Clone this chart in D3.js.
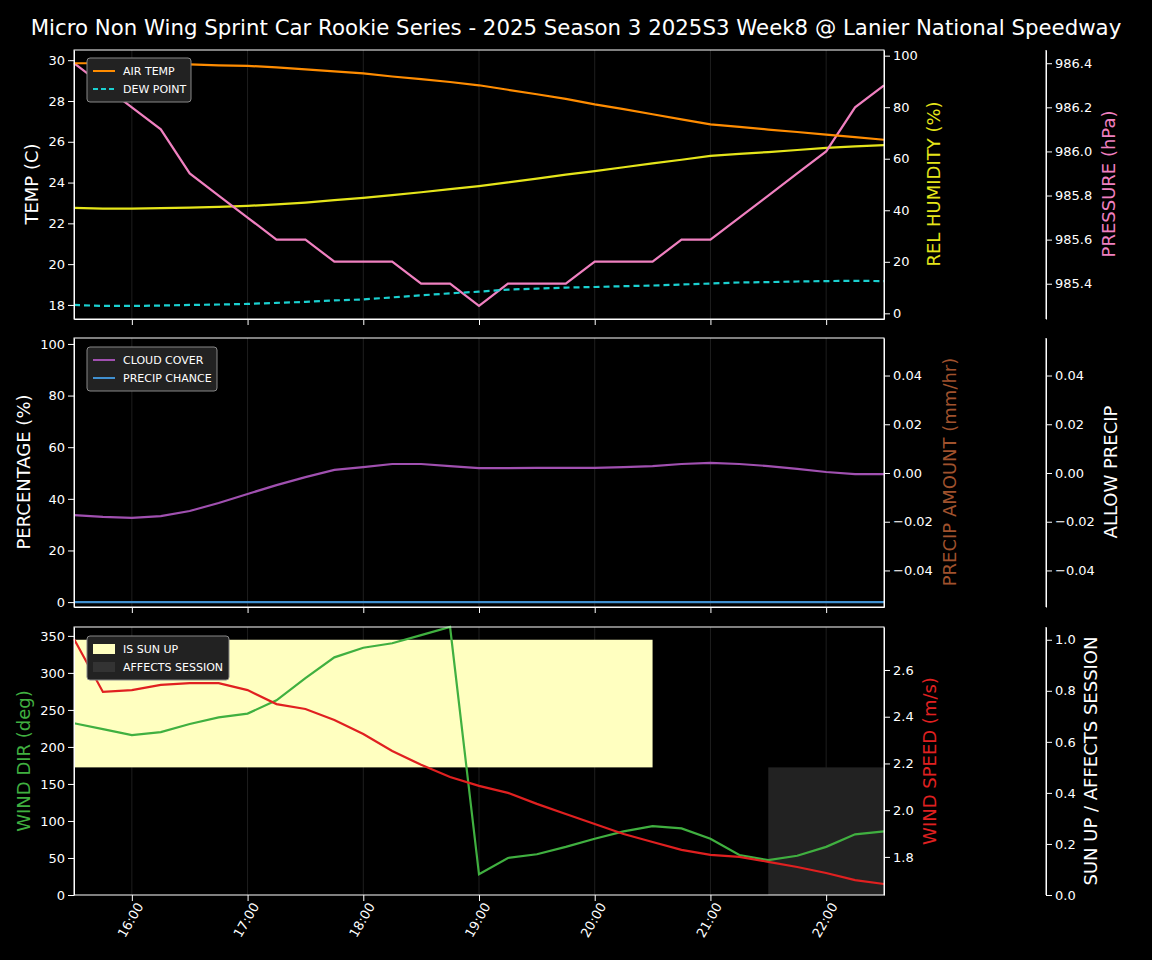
<!DOCTYPE html><html><head><meta charset="utf-8">
<script src="https://cdn.jsdelivr.net/npm/d3@7"></script>
<style>body{margin:0;background:#000}text{font-family:"DejaVu Sans",sans-serif}</style></head><body>
<svg id="c" width="1152" height="960"></svg>
<script>
const times=["15:30","15:45","16:00","16:15","16:30","16:45","17:00","17:15","17:30","17:45","18:00","18:15","18:30","18:45","19:00","19:15","19:30","19:45","20:00","20:15","20:30","20:45","21:00","21:15","21:30","21:45","22:00","22:15","22:30"];
const tickLabels=["16:00","17:00","18:00","19:00","20:00","21:00","22:00"];
const airTemp=[29.85,29.85,29.85,29.85,29.8,29.75,29.72,29.65,29.55,29.45,29.35,29.2,29.07,28.93,28.77,28.55,28.33,28.1,27.83,27.6,27.35,27.1,26.85,26.73,26.6,26.48,26.35,26.23,26.1];
const dewPoint=[18.0,17.95,17.95,17.97,18.0,18.02,18.05,18.1,18.15,18.22,18.27,18.37,18.47,18.57,18.65,18.75,18.8,18.85,18.88,18.92,18.95,19.0,19.05,19.1,19.12,19.15,19.17,19.18,19.17];
const humidity=[40.9,40.6,40.6,40.8,41,41.3,41.7,42.3,43,43.9,44.8,45.9,47,48.2,49.4,50.8,52.3,53.8,55.2,56.7,58.2,59.6,61.1,61.9,62.6,63.4,64.2,64.8,65.3];
const pressure=[986.4,986.3,986.2,986.1,985.9,985.8,985.7,985.6,985.6,985.5,985.5,985.5,985.4,985.4,985.3,985.4,985.4,985.4,985.5,985.5,985.5,985.6,985.6,985.7,985.8,985.9,986.0,986.2,986.3];
const cloudCover=[33.7,33,32.6,33.3,35.3,38.4,41.9,45.3,48.4,51.2,52.3,53.5,53.5,52.7,51.9,51.9,52,52,52,52.3,52.7,53.5,53.9,53.5,52.7,51.6,50.4,49.6,49.6];
const precipChance=times.map(()=>0);
const windDir=[232,224,216,220,231,240,245,263,293,321,334,340,351,362,28,50,55,65,76,86,93,90,76,54,47,53,65,82,86];
const windSpeed=[2.733,2.506,2.514,2.536,2.544,2.544,2.514,2.454,2.433,2.386,2.326,2.253,2.194,2.142,2.104,2.074,2.027,1.984,1.941,1.898,1.864,1.830,1.809,1.8,1.779,1.757,1.731,1.701,1.684];
const sunUp=[1,1,1,1,1,1,1,1,1,1,1,1,1,1,1,1,1,1,1,1,1,0,0,0,0,0,0,0,0];
const affects=[0,0,0,0,0,0,0,0,0,0,0,0,0,0,0,0,0,0,0,0,0,0,0,0,1,1,1,1,1];

const svg=d3.select("#c");
svg.append("rect").attr("width",1152).attr("height",960).attr("fill","#000");
const pt=d3.timeParse("%H:%M");
const T=times.map(pt);
const L=74,R=884;
const x=d3.scaleTime().domain([T[0],T[T.length-1]]).range([L,R]);
const hours=tickLabels.map(pt);
svg.append("text").attr("x",576).attr("y",35).attr("text-anchor","middle").attr("fill","#fff").attr("font-size",21.3).text("Micro Non Wing Sprint Car Rookie Series - 2025 Season 3 2025S3 Week8 @ Lanier National Speedway");

function panel(top,bot){
  const g=svg.append("g");
  hours.forEach(h=>g.append("line").attr("x1",x(h)).attr("x2",x(h)).attr("y1",top).attr("y2",bot).attr("stroke","#333").attr("stroke-width",1).attr("opacity",0.6));
  return g;
}
function axisL(sc,ticks,xp,col,fmt){const a=svg.append("g").attr("transform",`translate(${xp},0)`).call(d3.axisLeft(sc).tickValues(ticks).tickFormat(fmt||d3.format("d")).tickSizeOuter(0));style(a);}
function axisR(sc,ticks,xp,fmt){const a=svg.append("g").attr("transform",`translate(${xp},0)`).call(d3.axisRight(sc).tickValues(ticks).tickFormat(fmt||d3.format("d")).tickSizeOuter(0));style(a);}
function style(a){a.selectAll("path,line").attr("stroke","#fff");a.selectAll("text").attr("fill","#fff").attr("font-size",13);}
function frame(top,bot){svg.append("rect").attr("x",L).attr("y",top).attr("width",R-L).attr("height",bot-top).attr("fill","none").attr("stroke","#fff");}
function line(vals,y,col,dash){svg.append("path").datum(vals).attr("fill","none").attr("stroke",col).attr("stroke-width",2.2).attr("stroke-dasharray",dash||null)
  .attr("d",d3.line().x((d,i)=>x(T[i])).y(d=>y(d)));}
function label(txt,xp,yc,col,size){svg.append("text").attr("transform",`translate(${xp},${yc}) rotate(-90)`).attr("text-anchor","middle").attr("fill",col).attr("font-size",size||18).text(txt);}
function legend(yTop,items,w){const g=svg.append("g").attr("transform",`translate(87,${yTop})`);
  g.append("rect").attr("width",w).attr("height",items.length*18+8).attr("rx",3).attr("fill","#222").attr("stroke","#888");
  items.forEach((it,i)=>{const yy=13+i*18;
    if(it.box) g.append("rect").attr("x",6).attr("y",yy-5).attr("width",22).attr("height",10).attr("fill",it.col);
    else g.append("line").attr("x1",6).attr("x2",28).attr("y1",yy).attr("y2",yy).attr("stroke",it.col).attr("stroke-width",2).attr("stroke-dasharray",it.dash||null);
    g.append("text").attr("x",36).attr("y",yy+4).attr("fill","#fff").attr("font-size",11).text(it.t);});}
function runs(flags){const out=[];let s=null;
  for(let i=0;i<flags.length;i++){if(flags[i]&&s===null)s=i;if((!flags[i]||i===flags.length-1)&&s!==null){const e=flags[i]?i:i-1;if(e>s)out.push([s,e]);s=null;}}
  return out;}

// Panel 1
let t1=50,b1=319;
panel(t1,b1);
const yT=d3.scaleLinear().domain([17.31,30.5]).range([b1,t1]);
const yH=d3.scaleLinear().domain([-2.2,102.2]).range([b1,t1]);
const yP=d3.scaleLinear().domain([985.24,986.46]).range([b1,t1]);
line(humidity,yH,"#e5e51a");
line(pressure,yP,"#f080c0");
line(airTemp,yT,"#ff8c00");
line(dewPoint,yT,"#1ad0d0","6,4");
frame(t1,b1);
axisL(yT,[18,20,22,24,26,28,30],L);
axisR(yH,[0,20,40,60,80,100],R);
axisR(yP,[985.4,985.6,985.8,986.0,986.2,986.4],1046,d3.format(".1f"));
svg.append("line").attr("x1",1046).attr("x2",1046).attr("y1",t1).attr("y2",b1).attr("stroke","#fff");
label("TEMP (C)",38,184,"#fff");label("REL HUMIDITY (%)",940,184,"#e5e51a");label("PRESSURE (hPa)",1115,184,"#f080c0");
legend(58,[{t:"AIR TEMP",col:"#ff8c00"},{t:"DEW POINT",col:"#1ad0d0",dash:"5,3"}],104);

// Panel 2
let t2=338,b2=607;
panel(t2,b2);
const yC=d3.scaleLinear().domain([-1.9,102.3]).range([b2,t2]);
const yA=d3.scaleLinear().domain([-0.055,0.0554]).range([b2,t2]);
line(cloudCover,yC,"#a050b0");
line(precipChance,yC,"#4090d0");
frame(t2,b2);
axisL(yC,[0,20,40,60,80,100],L);
axisR(yA,[-0.04,-0.02,0,0.02,0.04],R,d3.format(".2f"));
axisR(yA,[-0.04,-0.02,0,0.02,0.04],1046,d3.format(".2f"));
svg.append("line").attr("x1",1046).attr("x2",1046).attr("y1",t2).attr("y2",b2).attr("stroke","#fff");
label("PERCENTAGE (%)",30,472,"#fff");label("PRECIP AMOUNT (mm/hr)",956,472,"#a0522d");label("ALLOW PRECIP",1117,472,"#fff");
legend(347,[{t:"CLOUD COVER",col:"#a050b0"},{t:"PRECIP CHANCE",col:"#4090d0"}],130);

// Panel 3
let t3=627,b3=895;
panel(t3,b3);
const yD=d3.scaleLinear().domain([0,362]).range([b3,t3]);
const yS=d3.scaleLinear().domain([1.637,2.784]).range([b3,t3]);
const yF=d3.scaleLinear().domain([0,1.05]).range([b3,t3]);
runs(sunUp).forEach(([s,e])=>svg.append("rect").attr("x",x(T[s])).attr("width",x(T[e])-x(T[s])).attr("y",yF(1)).attr("height",yF(0.5)-yF(1)).attr("fill","#ffffc0"));
runs(affects).forEach(([s,e])=>svg.append("rect").attr("x",x(T[s])).attr("width",x(T[e])-x(T[s])).attr("y",yF(0.5)).attr("height",yF(0)-yF(0.5)).attr("fill","#222"));
line(windDir,yD,"#40b040");
line(windSpeed,yS,"#e02020");
frame(t3,b3);
axisL(yD,[0,50,100,150,200,250,300,350],L);
axisR(yS,[1.8,2.0,2.2,2.4,2.6],R,d3.format(".1f"));
axisR(yF,[0,0.2,0.4,0.6,0.8,1.0],1046,d3.format(".1f"));
svg.append("line").attr("x1",1046).attr("x2",1046).attr("y1",t3).attr("y2",b3).attr("stroke","#fff");
label("WIND DIR (deg)",30,761,"#40b040");label("WIND SPEED (m/s)",936,761,"#e02020");
label("SUN UP / AFFECTS SESSION",1097,761,"#fff");
legend(636,[{t:"IS SUN UP",col:"#ffffc0",box:true},{t:"AFFECTS SESSION",col:"#333",box:true}],142);

// x axis
const xa=svg.append("g").attr("transform",`translate(0,${b3})`).call(d3.axisBottom(x).tickValues(hours).tickFormat(d3.timeFormat("%H:%M")).tickSizeOuter(0));
style(xa);xa.select(".domain").remove();
xa.selectAll("text").attr("text-anchor","end").attr("dx","-0.3em").attr("dy","0.5em").attr("transform","rotate(-60)");
[b1,b2].forEach(b=>{svg.append("g").attr("transform",`translate(0,${b})`).call(d3.axisBottom(x).tickValues(hours).tickFormat("").tickSizeOuter(0)).call(style);});
</script></body></html>
